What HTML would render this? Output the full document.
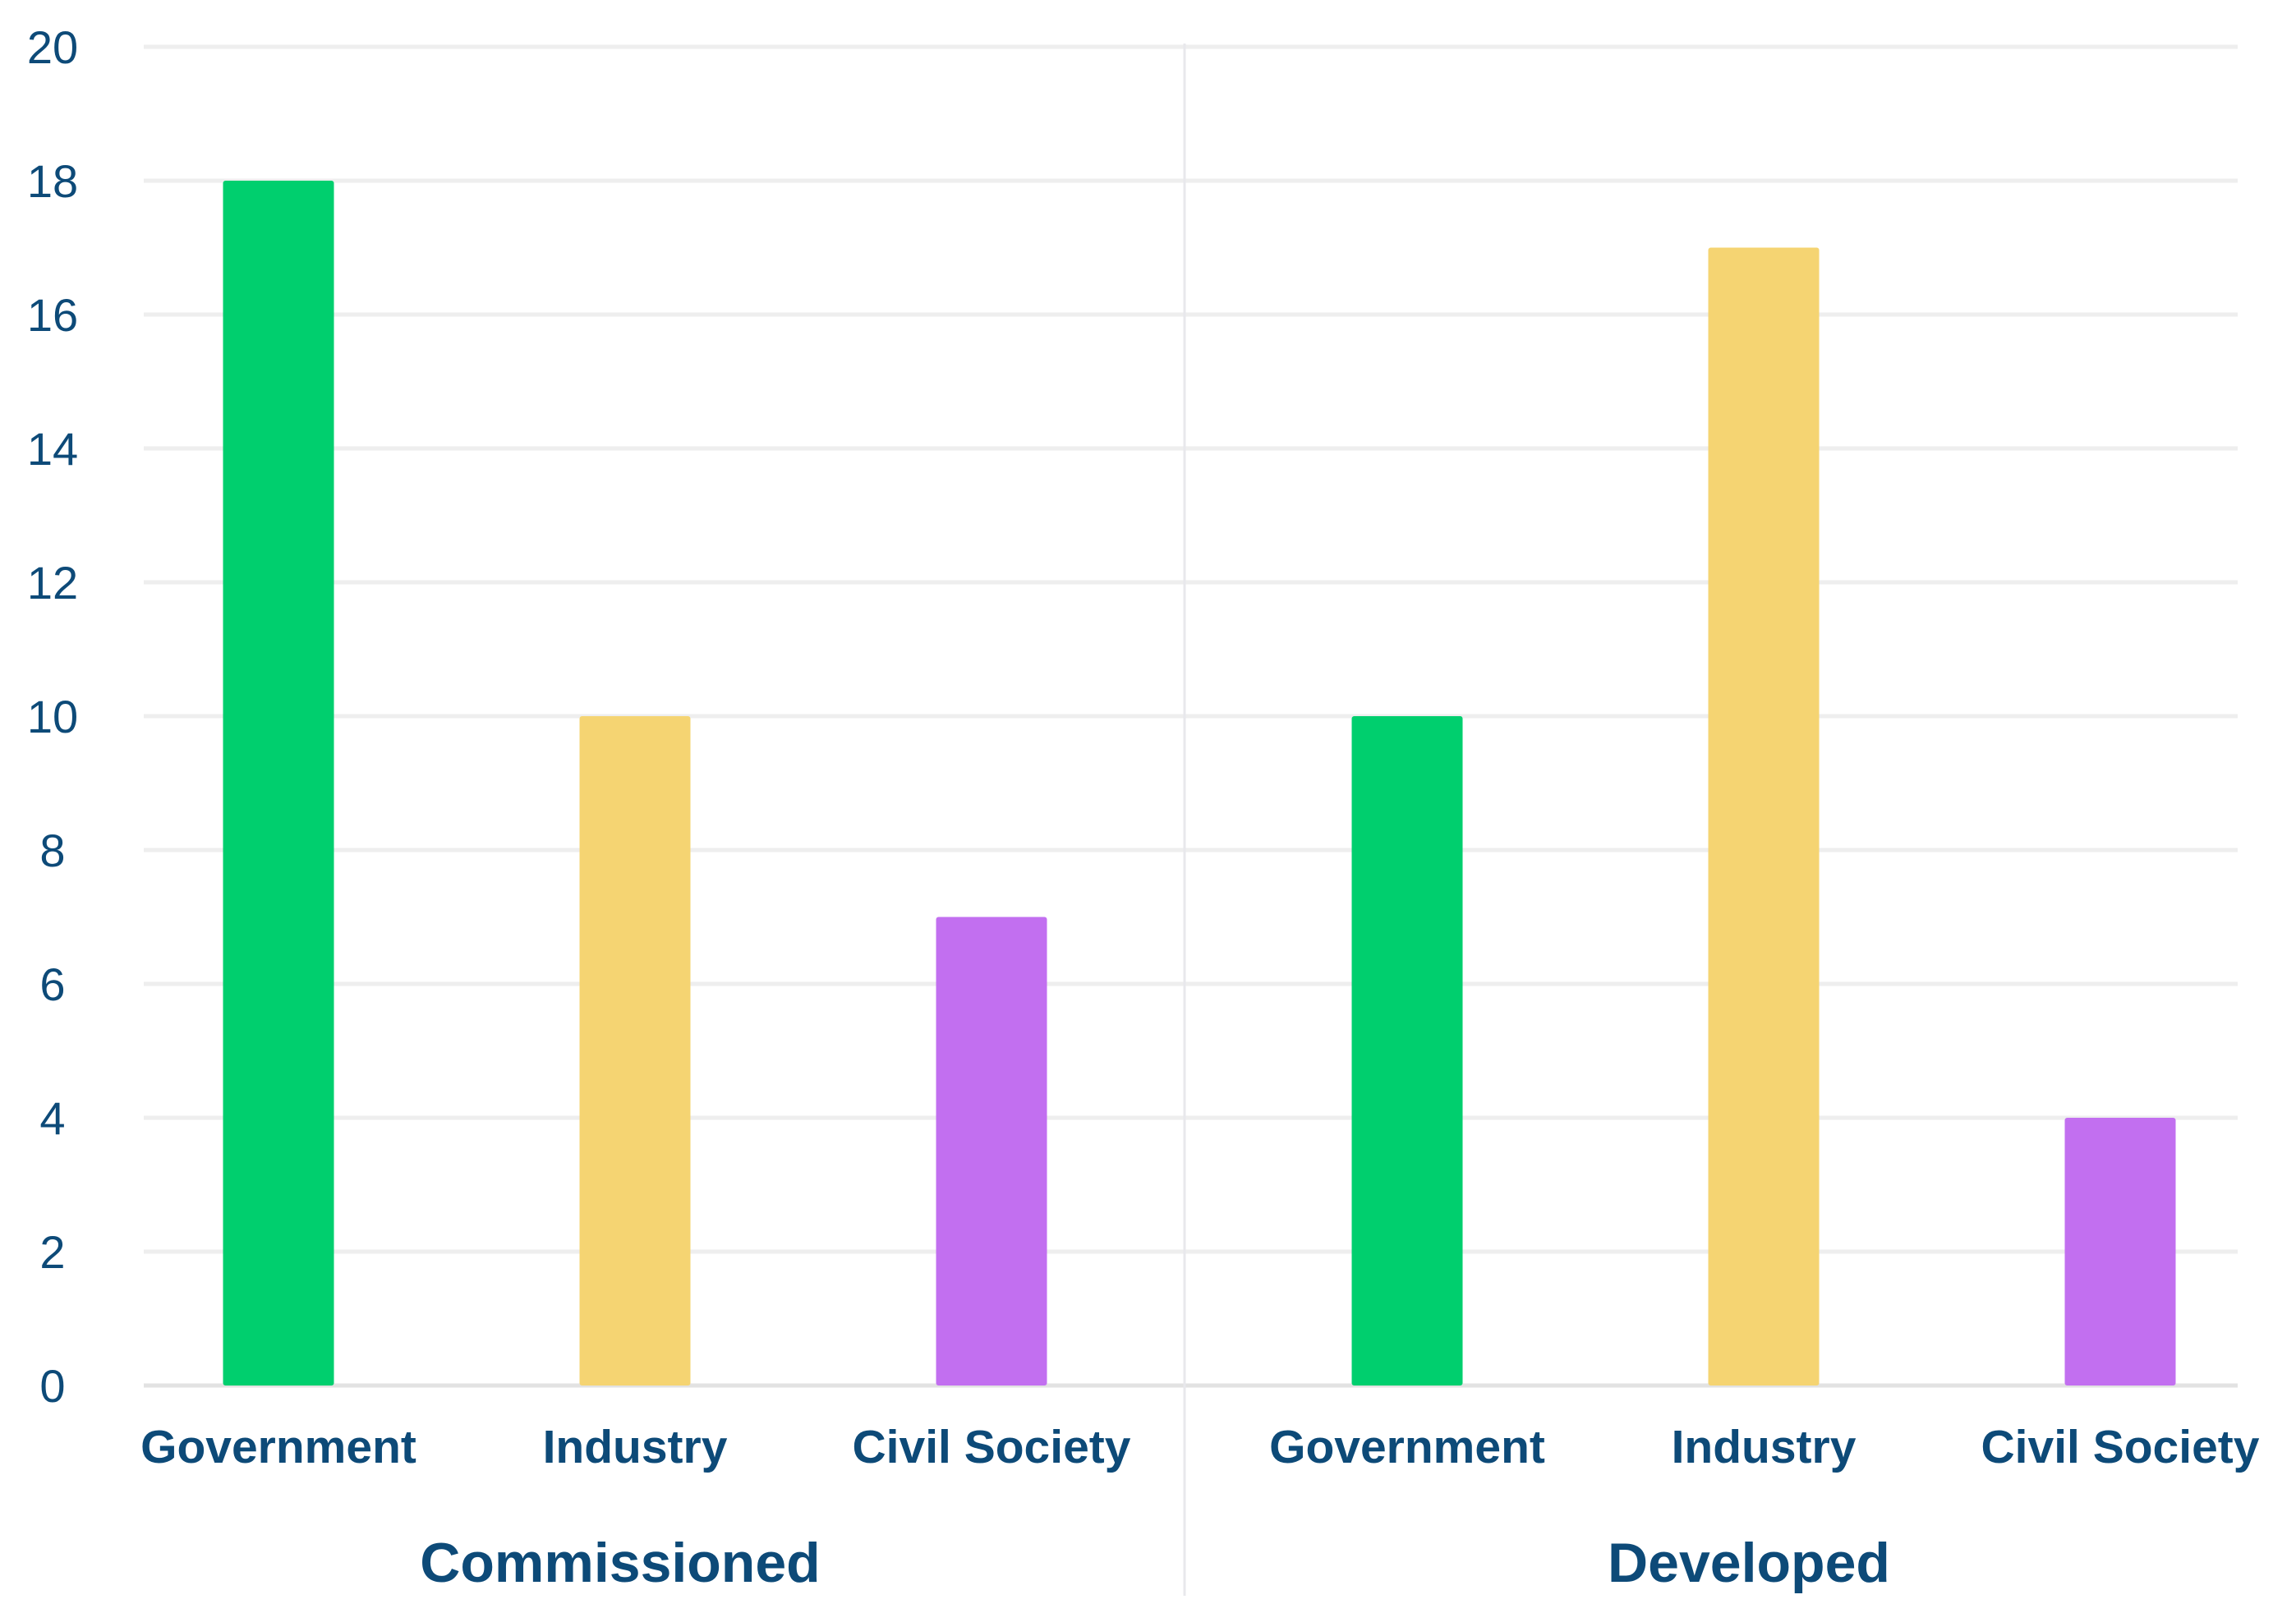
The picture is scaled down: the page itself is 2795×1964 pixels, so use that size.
<!DOCTYPE html>
<html><head><meta charset="utf-8"><style>
html,body{margin:0;padding:0;background:#fff;}
svg{display:block;font-family:"Liberation Sans",sans-serif;}
</style></head><body>
<svg id="chart" width="2795" height="1964" viewBox="0 0 2795 1964">
<g id="grid"></g>
<g id="bars"></g>
<g id="labels"></g>
</svg>
<script>
const categories = ["Government","Industry","Civil Society","Government","Industry","Civil Society"];
const groups = ["Commissioned","Developed"];
const values = [18,10,7,10,17,4];
const yTicks = [0,2,4,6,8,10,12,14,16,18,20];
const barColors = ["#00cf6e","#f5d472","#c26ff0","#00cf6e","#f5d472","#c26ff0"];

const NS="http://www.w3.org/2000/svg";
const left=175,right=2724,y0=1687,y20=57;
const yScale=v=>y0-(y0-y20)*v/20;
const catX=i=>339+i*434+(i>=3?72:0);
const barW=135;
function mk(tag,attrs,parent){const e=document.createElementNS(NS,tag);for(const k in attrs)e.setAttribute(k,attrs[k]);parent.appendChild(e);return e;}
const grid=document.getElementById('grid'),bars=document.getElementById('bars'),labels=document.getElementById('labels');
yTicks.forEach(t=>{
  const l=mk('line',{x1:left,x2:right,y1:yScale(t),y2:yScale(t),stroke:t===0?'#e2e2e2':'#eeeeee','stroke-width':5},grid);
  
  
  const tx=mk('text',{x:64,y:yScale(t)+20,'text-anchor':'middle','font-size':56,fill:'#0d4a78'},labels);
  tx.textContent=t;
  
  
});
const dv=mk('line',{x1:1442,x2:1442,y1:53,y2:1943,stroke:'#e8e8ec','stroke-width':3},grid);


values.forEach((v,i)=>{
  const r=mk('rect',{x:catX(i)-barW/2,y:yScale(v),width:barW,height:y0-yScale(v),fill:barColors[i],rx:3},bars);
  
  
  const t=mk('text',{x:catX(i),y:1781,'text-anchor':'middle','font-size':57,'font-weight':'bold',fill:'#0d4a78'},labels);
  t.textContent=categories[i];
  
  
});
groups.forEach((g,gi)=>{
  const cx=(catX(gi*3)+catX(gi*3+2))/2-18;
  const t=mk('text',{x:cx,y:1926,'text-anchor':'middle','font-size':68,'font-weight':'bold',fill:'#0d4a78'},labels);
  t.textContent=g;
  
  
});
</script>
</body></html>
